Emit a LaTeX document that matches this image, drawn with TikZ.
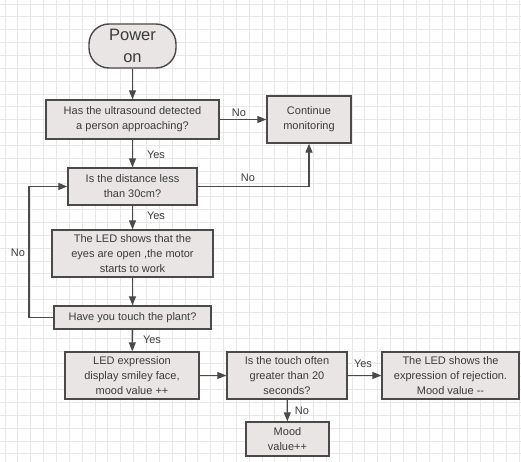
\documentclass[tikz,border=0pt]{standalone}
\usepackage{fontspec}
\setmainfont{Liberation Sans}
\usetikzlibrary{arrows.meta}
\definecolor{gridc}{HTML}{E8E8E8}
\definecolor{boxfill}{HTML}{E8E5E4}
\definecolor{boxline}{HTML}{4A4A4A}
\definecolor{txt}{HTML}{3C3C3C}
\begin{document}
\begin{tikzpicture}[x=1pt,y=-1pt,
  box/.style={draw=boxline,fill=boxfill,line width=1.4pt,align=center,text=txt,
    font=\fontsize{11}{15}\selectfont,inner sep=0pt},
  conn/.style={draw=boxline,line width=1.3pt,-{Triangle[length=9pt,width=7pt]}},
  lbl/.style={text=txt,font=\fontsize{11}{13}\selectfont,inner sep=0pt}]
\useasboundingbox (0,0) rectangle (521,462);
\fill[white] (0,0) rectangle (521,462);
\foreach \i in {0,...,40} \draw[gridc,line width=0.8pt] ({5+12.85*\i},0) -- ({5+12.85*\i},462);
\foreach \i in {0,...,35} \draw[gridc,line width=0.8pt] (0,{4+12.85*\i}) -- (521,{4+12.85*\i});

\node[box,rounded corners=20pt,minimum width=87pt,minimum height=44pt,
  font=\fontsize{16.5}{22}\selectfont] (power) at (132.5,46) {Power\\on};
\node[box,minimum width=173pt,minimum height=39pt] (b1) at (132.5,119.5) {Has the ultrasound detected\\a person approaching?};
\node[box,minimum width=84pt,minimum height=47pt] (cont) at (309,119.5) {Continue\\monitoring};
\node[box,minimum width=129pt,minimum height=37pt] (b2) at (132.5,186.5) {Is the distance less\\than 30cm?};
\node[box,minimum width=161pt,minimum height=47pt] (b3) at (132.5,253.5) {The LED shows that the\\eyes are open ,the motor\\starts to work};
\node[box,minimum width=157pt,minimum height=23pt] (b4) at (132.5,317.5) {Have you touch the plant?};
\node[box,minimum width=134pt,minimum height=47pt] (b5) at (132,375.5) {LED expression\\display smiley face,\\mood value ++};
\node[box,minimum width=120pt,minimum height=47pt] (b6) at (287,375.5) {Is the touch often\\greater than 20\\seconds?};
\node[box,minimum width=137pt,minimum height=47pt] (b7) at (450.5,375.5) {The LED shows the\\expression of rejection.\\Mood value -{}-};
\node[box,minimum width=83pt,minimum height=34pt] (b8) at (287.5,439) {Mood\\value++};

\coordinate (lp) at (29,0);

\draw[conn] (power) -- (b1);
\draw[conn] (b1) -- (cont);
\draw[conn] (b1) -- (b2);
\draw[conn] (b2.east) -| (cont.south);
\draw[conn] (b2) -- (b3);
\draw[conn] (b3) -- (b4);
\draw[conn] (b4.west) -- (lp |- b4.west) |- (b2.west);
\draw[conn] (b4) -- (b5);
\draw[conn] (b5) -- (b6);
\draw[conn] (b6) -- (b7);
\draw[conn] (b6) -- (b8);

\node[lbl] (l1) at (239,113) {No};
\node[lbl] (l2) at (156,155) {Yes};
\node[lbl] (l3) at (248,178) {No};
\node[lbl] (l4) at (156,216) {Yes};
\node[lbl] (l5) at (18,253) {No};
\node[lbl] (l6) at (152,340) {Yes};
\node[lbl] (l7) at (363,364) {Yes};
\node[lbl] (l8) at (302,411) {No};
\end{tikzpicture}
\end{document}
